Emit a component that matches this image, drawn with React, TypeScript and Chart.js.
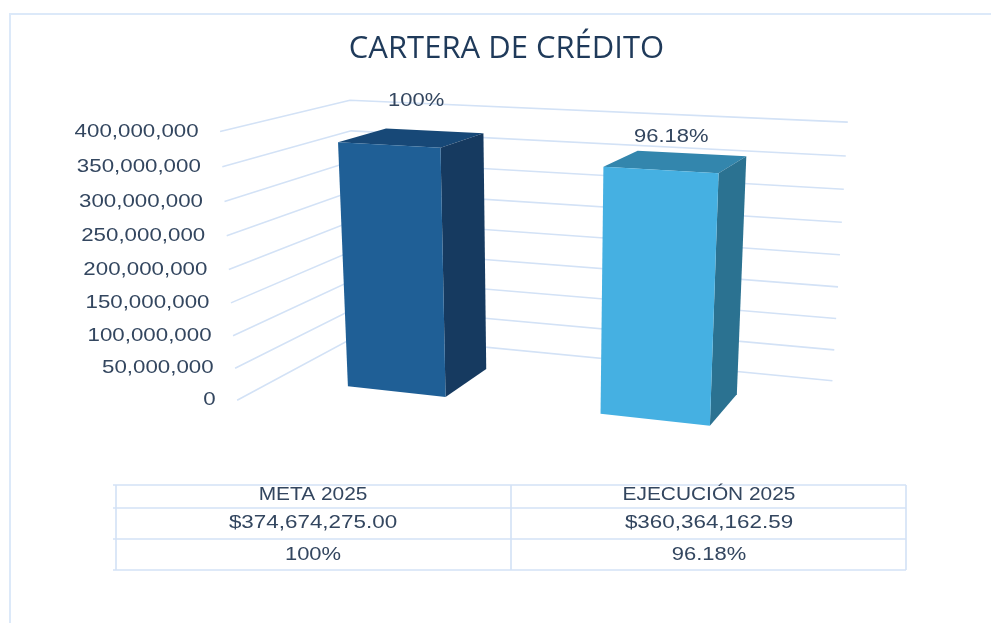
import React, { useEffect, useRef } from "react";
import { Chart, registerables } from "chart.js";

Chart.register(...registerables);

const categories = ["META 2025", "EJECUCIÓN 2025"];
const values = [374674275.0, 360364162.59];
const amountLabels = ["$374,674,275.00", "$360,364,162.59"];
const percentLabels = ["100%", "96.18%"];
const frontColors = ["#1F5F96", "#45B0E2"];
const topColors = ["#174877", "#3386AD"];
const sideColors = ["#163A60", "#2B7291"];
const labelOffsets = [[4, -37], [-5, -24]];

const GRID = "#D3E2F6";
const TEXT = "#33465F";

// Projection of the unit box (across, value, depth) on to the page.
type Anchor = [number, number, number, number, number];
const boxAnchors: Anchor[] = [
  [0, 0, 0, 236, 400],
  [0, 1, 0, 221, 132],
  [0, 0, 1, 360, 335],
  [0, 1, 1, 349, 100],
  [1, 0, 1, 832, 381],
  [1, 1, 1, 848, 122],
  [1, 0, 0, 777, 462],
];
const depthNear = 0.3;
const depthFar = 0.7;

function solve(m: number[][], r: number[]) {
  const n = r.length;
  const a = m.map((row, i) => [...row, r[i]]);
  for (let i = 0; i < n; i++) {
    let p = i;
    for (let k = i + 1; k < n; k++) if (Math.abs(a[k][i]) > Math.abs(a[p][i])) p = k;
    [a[i], a[p]] = [a[p], a[i]];
    for (let k = i + 1; k < n; k++) {
      const f = a[k][i] / a[i][i];
      for (let j = i; j <= n; j++) a[k][j] -= f * a[i][j];
    }
  }
  const x = new Array(n).fill(0);
  for (let i = n - 1; i >= 0; i--) {
    let s = a[i][n];
    for (let j = i + 1; j < n; j++) s -= a[i][j] * x[j];
    x[i] = s / a[i][i];
  }
  return x;
}

function fitProjection(anchors: Anchor[]) {
  const rows: number[][] = [];
  const rhs: number[] = [];
  for (const [u, v, w, x, y] of anchors) {
    rows.push([u, v, w, 1, 0, 0, 0, 0, -x * u, -x * v, -x * w]);
    rhs.push(x);
    rows.push([0, 0, 0, 0, u, v, w, 1, -y * u, -y * v, -y * w]);
    rhs.push(y);
  }
  const n = 11;
  const ata = Array.from({ length: n }, (_, i) =>
    Array.from({ length: n }, (_, j) => rows.reduce((s, r) => s + r[i] * r[j], 0))
  );
  const atb = Array.from({ length: n }, (_, i) => rows.reduce((s, r, k) => s + r[i] * rhs[k], 0));
  const p = solve(ata, atb);
  return (u: number, v: number, w: number): [number, number] => {
    const d = p[8] * u + p[9] * v + p[10] * w + 1;
    return [
      (p[0] * u + p[1] * v + p[2] * w + p[3]) / d,
      (p[4] * u + p[5] * v + p[6] * w + p[7]) / d,
    ];
  };
}
const project = fitProjection(boxAnchors);

function stretchedText(
  ctx: CanvasRenderingContext2D,
  text: string,
  x: number,
  y: number,
  align: CanvasTextAlign,
  size = 18,
  sx = 1.22
) {
  ctx.save();
  ctx.translate(x, y);
  ctx.scale(sx, 1);
  ctx.font = `${size}px "Liberation Sans"`;
  ctx.fillStyle = TEXT;
  ctx.textAlign = align;
  ctx.textBaseline = "middle";
  ctx.fillText(text, 0, 0);
  ctx.restore();
}

function poly(ctx: CanvasRenderingContext2D, pts: [number, number][], color: string) {
  ctx.beginPath();
  pts.forEach((p, i) => (i ? ctx.lineTo(p[0], p[1]) : ctx.moveTo(p[0], p[1])));
  ctx.closePath();
  ctx.fillStyle = color;
  ctx.fill();
}

const scene = {
  id: "scene",
  beforeDatasetDraw(chart: any) {
    const { ctx, chartArea: area, scales } = chart;
    const yFrac = (py: number) => (area.bottom - py) / area.height;
    const xFrac = (px: number) => (px - area.left) / area.width;

    // wall grid lines and slanted tick labels
    ctx.save();
    ctx.strokeStyle = GRID;
    ctx.lineWidth = 1.6;
    for (const t of scales.y.ticks) {
      const v = yFrac(scales.y.getPixelForValue(t.value));
      const a = project(0, v, 0);
      const b = project(0, v, 1);
      const c = project(1, v, 1);
      ctx.beginPath();
      ctx.moveTo(a[0], a[1]);
      ctx.lineTo(b[0], b[1]);
      ctx.lineTo(c[0], c[1]);
      ctx.stroke();
      stretchedText(ctx, Number(t.value).toLocaleString("en-US"), a[0] - 21.5, a[1], "right", 18.5, 1.205);
    }
    ctx.restore();

    // bars
    chart.getDatasetMeta(0).data.forEach((bar: any, i: number) => {
      const u0 = xFrac(bar.x - bar.width / 2);
      const u1 = xFrac(bar.x + bar.width / 2);
      const top = yFrac(bar.y);
      const base = yFrac(bar.base);
      const fbl = project(u0, base, depthNear);
      const fbr = project(u1, base, depthNear);
      const ftl = project(u0, top, depthNear);
      const ftr = project(u1, top, depthNear);
      const bbr = project(u1, base, depthFar);
      const btl = project(u0, top, depthFar);
      const btr = project(u1, top, depthFar);
      poly(ctx, [ftl, ftr, btr, btl], topColors[i]);
      poly(ctx, [ftr, btr, bbr, fbr], sideColors[i]);
      poly(ctx, [ftl, ftr, fbr, fbl], frontColors[i]);
    });

    // value labels above the bars
    chart.getDatasetMeta(0).data.forEach((bar: any, i: number) => {
      const c = project(xFrac(bar.x), yFrac(bar.y), (depthNear + depthFar) / 2);
      stretchedText(ctx, percentLabels[i], c[0] + labelOffsets[i][0], c[1] + labelOffsets[i][1], "center");
    });
    return false;
  },
  afterDraw(chart: any) {
    const { ctx } = chart;
    const left = 116;
    const right = 906;
    const mid = 511;
    const rowLines = [485, 508, 539, 570];
    ctx.save();
    ctx.strokeStyle = GRID;
    ctx.lineWidth = 1.6;
    ctx.beginPath();
    rowLines.forEach((y) => {
      ctx.moveTo(left - 3, y);
      ctx.lineTo(right, y);
    });
    [left, mid, right].forEach((x) => {
      ctx.moveTo(x, rowLines[0]);
      ctx.lineTo(x, rowLines[3]);
    });
    ctx.stroke();
    ctx.restore();
    const centers = [(left + mid) / 2 - 0.5, (mid + right) / 2 + 0.5];
    categories.forEach((c, i) => {
      stretchedText(ctx, c, centers[i], 495, "center", 18, 1.16);
      stretchedText(ctx, amountLabels[i], centers[i], 523, "center", 18, 1.245);
      stretchedText(ctx, percentLabels[i], centers[i], 555, "center", 18, 1.22);
    });
  },
};

export default function App() {
  const ref = useRef<HTMLCanvasElement>(null);
  useEffect(() => {
    const chart = new Chart(ref.current!, {
      type: "bar",
      data: {
        labels: categories,
        datasets: [
          {
            label: "CARTERA DE CRÉDITO",
            data: values,
            backgroundColor: frontColors,
            categoryPercentage: 0.4,
            barPercentage: 1,
          },
        ],
      },
      options: {
        responsive: false,
        animation: false,
        layout: { padding: { left: 22, top: 0, right: 0, bottom: 130 } },
        plugins: {
          legend: { display: false },
          tooltip: { enabled: false },
          title: {
            display: true,
            text: "CARTERA DE CRÉDITO",
            color: "#1F3A5A",
            font: { family: '"Open Sans"', size: 31, weight: "normal" },
            padding: { top: 31, bottom: 20 },
          },
        },
        scales: {
          x: { display: false },
          y: { display: false, min: 0, max: 400000000, ticks: { stepSize: 50000000 } },
        },
      },
      plugins: [scene],
    } as any);
    return () => chart.destroy();
  }, []);
  return (
    <div style={{ position: "fixed", left: 0, top: 0, width: 991, height: 623, background: "#fff", overflow: "hidden" }}>
      <canvas ref={ref} width={991} height={623} style={{ position: "absolute", left: 0, top: 0 }} />
      <div
        style={{
          position: "absolute",
          left: 9,
          top: 13,
          width: 990,
          height: 620,
          borderLeft: "2px solid #DCE9F9",
          borderTop: "2px solid #DCE9F9",
        }}
      />
    </div>
  );
}
